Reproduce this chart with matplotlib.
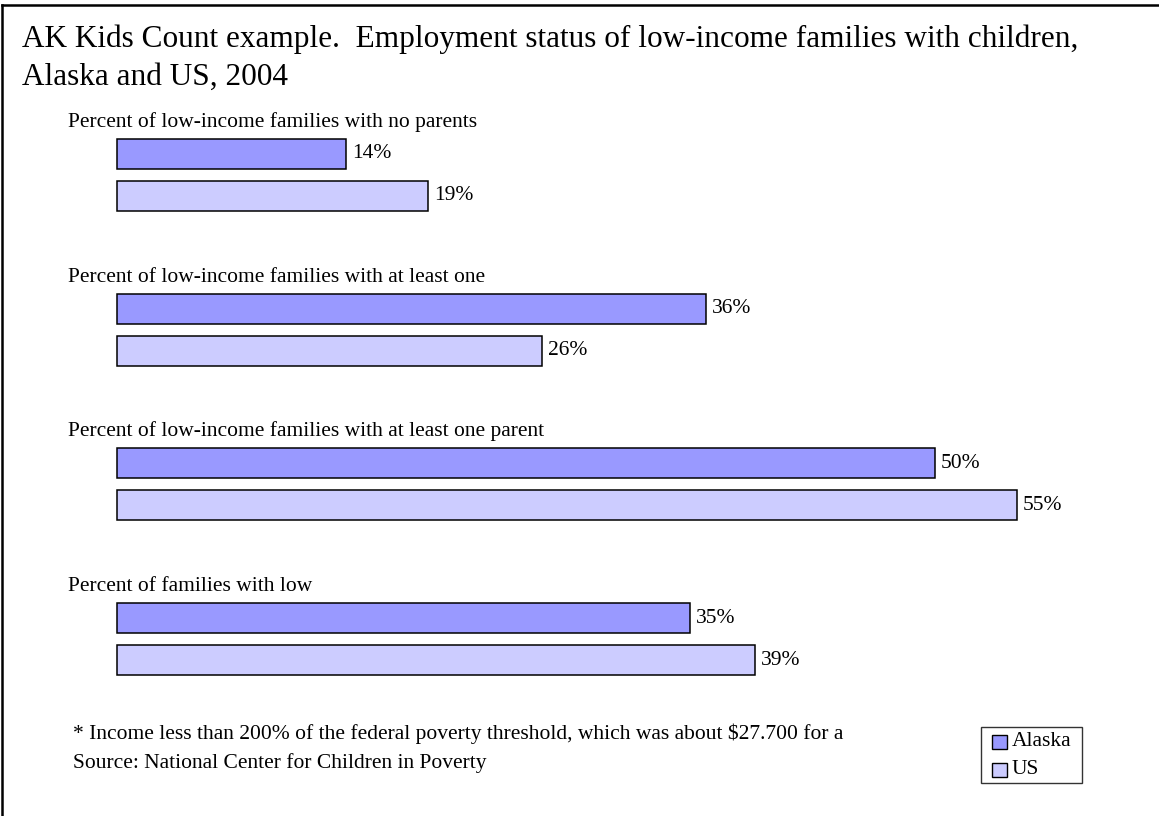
#!/usr/bin/env python3

import numpy as np
import matplotlib
matplotlib.use('Agg')
import matplotlib.pyplot as plt
from matplotlib.patches import Rectangle
from matplotlib.lines import Line2D

plt.rcParams['font.family'] = ['Liberation Serif', 'DejaVu Serif']

groups = ["Percent of low-income families with no parents",
          "Percent of low-income families with at least one",
          "Percent of low-income families with at least one parent",
          "Percent of families with low"]
alaska = [14, 36, 50, 35]
us = [19, 26, 55, 39]
series_names = ["Alaska", "US"]
title_lines = ["AK Kids Count example.  Employment status of low-income families with children,",
               "Alaska and US, 2004"]
notes = ["* Income less than 200% of the federal poverty threshold, which was about $27.700 for a",
         "Source: National Center for Children in Poverty"]

W, H = 1159, 816
fig = plt.figure(figsize=(W / 100, H / 100), dpi=100)
fig.patch.set_facecolor('white')

# one axes over the whole canvas, x in percent, y in pixel rows
px_per_pct = 900 / 55.0
x0 = 117
ax = fig.add_axes([0, 0, 1, 1])
ax.set_xlim(-x0 / px_per_pct, (W - x0) / px_per_pct)
ax.set_ylim(H, 0)
ax.axis('off')

ak_col = '#9999ff'
us_col = '#ccccff'
bar_h = 30
group_y = 154 + 154.7 * np.arange(len(groups))
off = 42
fs = 15.5

ax.barh(group_y, alaska, height=bar_h, color=ak_col, edgecolor='black', linewidth=1.1)
ax.barh(group_y + off, us, height=bar_h, color=us_col, edgecolor='black', linewidth=1.1)

pad = 6 / px_per_pct
for y, a, u in zip(group_y, alaska, us):
    ax.text(a + pad, y, f"{a}%", fontsize=fs, va='center', ha='left')
    ax.text(u + pad, y + off, f"{u}%", fontsize=fs, va='center', ha='left')

label_x = (68 - x0) / px_per_pct
for y, g in zip(group_y, groups):
    ax.text(label_x, y - 27, g, fontsize=fs, va='baseline', ha='left')

# title and footnotes
fig.text(22 / W, 1 - 47 / H, title_lines[0], fontsize=22.5, va='baseline', ha='left')
fig.text(22 / W, 1 - 85 / H, title_lines[1], fontsize=22.5, va='baseline', ha='left')
fig.text(73 / W, 1 - 734 / H, notes[0], fontsize=fs, va='center', ha='left')
fig.text(73 / W, 1 - 763 / H, notes[1], fontsize=fs, va='center', ha='left')

# legend box drawn by hand (pixel units via figure fraction)
def px(x, y):
    return x / W, 1 - y / H

fig.add_artist(Rectangle(px(981, 783), 101 / W, 56 / H, transform=fig.transFigure,
                         facecolor='white', edgecolor='#333333', linewidth=1.0))
for i, (name, col) in enumerate(zip(series_names, [ak_col, us_col])):
    cy = 742 + 28 * i
    fig.add_artist(Rectangle(px(992, cy + 7), 15 / W, 14 / H, transform=fig.transFigure,
                             facecolor=col, edgecolor='black', linewidth=1.0))
    fig.text(*px(1012, cy), name, fontsize=fs, va='center', ha='left')

# frame lines along top and left edge
fig.add_artist(Line2D([2 / W, 1], [1 - 5 / H, 1 - 5 / H], color='black', linewidth=1.8,
                      transform=fig.transFigure))
fig.add_artist(Line2D([2 / W, 2 / W], [0, 1 - 5 / H], color='black', linewidth=1.8,
                      transform=fig.transFigure))

fig.savefig('out.png', dpi=100, facecolor='white')
